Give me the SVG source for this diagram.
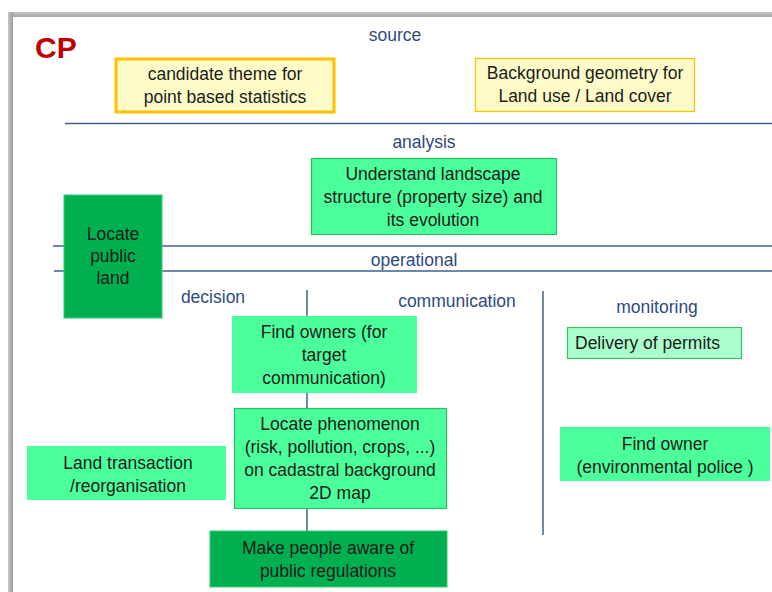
<svg xmlns="http://www.w3.org/2000/svg" width="772" height="592" viewBox="0 0 772 592">
<defs>
<linearGradient id="gt" x1="0" y1="0" x2="0" y2="1"><stop offset="0" stop-color="#c4c6c9"/><stop offset="1" stop-color="#a5a7aa"/></linearGradient>
<linearGradient id="gl" x1="0" y1="0" x2="1" y2="0"><stop offset="0" stop-color="#c4c6c9"/><stop offset="1" stop-color="#9a9c9f"/></linearGradient>
</defs>
<style>
.t{font-family:"Liberation Sans",Arial,sans-serif;font-size:17.5px;fill:#1b1b1b;text-anchor:middle}
.l{font-family:"Liberation Sans",Arial,sans-serif;font-size:17.5px;fill:#2e4a7e;text-anchor:middle}
.sep{stroke:#3f5f8f;stroke-width:1.5;fill:none}
.mint{fill:#4bff9b}
.mintS{fill:#4bff9b;stroke:#2fbf63;stroke-width:1.2}
.dark{fill:#00b050;stroke:#2fcf6f;stroke-width:1}
.yel{fill:#fffbc8;stroke:#ffc000}
</style>
<rect x="0" y="0" width="772" height="592" fill="#ffffff"/>
<rect x="8" y="12" width="764" height="5" fill="url(#gt)"/>
<rect x="8" y="12" width="5" height="580" fill="url(#gl)"/>
<text x="35" y="58" style="font-family:'Liberation Sans',Arial,sans-serif;font-size:30px;font-weight:bold;fill:#c00000">CP</text>

<g id="separators">
<line class="sep" x1="65" y1="123.5" x2="772" y2="123.5"/>
<line class="sep" x1="53" y1="246" x2="772" y2="246"/>
<line class="sep" x1="54" y1="271" x2="772" y2="271"/>
<line class="sep" x1="543" y1="291" x2="543" y2="535"/>
</g>
<g id="labels">
<text class="l" x="395" y="41">source</text>
<text class="l" x="424" y="148">analysis</text>
<text class="l" x="414" y="266">operational</text>
<text class="l" x="213" y="303">decision</text>
<text class="l" x="457" y="307">communication</text>
<text class="l" x="657" y="313">monitoring</text>
</g>
<g id="connectors">
<line class="sep" x1="307" y1="290" x2="307" y2="531"/>
</g>

<g id="candidate">
<rect class="yel" x="116" y="59" width="218" height="53" stroke-width="3"/>
<text class="t" x="225" y="80">candidate theme for</text>
<text class="t" x="225" y="103">point based statistics</text>
</g>
<g id="background">
<rect class="yel" x="475.5" y="58.5" width="219" height="53" stroke-width="1.3"/>
<text class="t" x="585" y="79">Background geometry  for</text>
<text class="t" x="585" y="102">Land use / Land cover</text>
</g>
<g id="understand">
<rect class="mintS" x="311.5" y="158.5" width="245" height="76"/>
<text class="t" x="433" y="180">Understand landscape</text>
<text class="t" x="433" y="203">structure (property size) and</text>
<text class="t" x="433" y="226">its evolution</text>
</g>
<g id="locate-public">
<rect class="dark" x="64" y="195" width="98" height="123"/>
<text class="t" x="113" y="240">Locate</text>
<text class="t" x="113" y="262">public</text>
<text class="t" x="113" y="284">land</text>
</g>
<g id="find-owners">
<rect class="mint" x="232" y="316" width="185" height="77"/>
<text class="t" x="324" y="338">Find owners (for</text>
<text class="t" x="324" y="361">target</text>
<text class="t" x="324" y="384">communication)</text>
</g>
<g id="delivery">
<rect x="567.5" y="327.5" width="174" height="31" fill="#aaffcc" stroke="#3dbf6a" stroke-width="1.2"/>
<text class="t" x="575" y="349" style="text-anchor:start">Delivery of permits</text>
</g>
<g id="locate-phenomenon">
<rect class="mintS" x="234.5" y="408.5" width="212" height="100"/>
<text class="t" x="340" y="430">Locate phenomenon</text>
<text class="t" x="340" y="453">(risk, pollution, crops, ...)</text>
<text class="t" x="340" y="476">on cadastral background</text>
<text class="t" x="340" y="499">2D map</text>
</g>
<g id="land-transaction">
<rect class="mint" x="27" y="446" width="199" height="54"/>
<text class="t" x="128" y="469">Land transaction</text>
<text class="t" x="128" y="492">/reorganisation</text>
</g>
<g id="find-owner">
<rect class="mint" x="560" y="427" width="210" height="54"/>
<text class="t" x="665" y="450">Find owner</text>
<text class="t" x="665" y="473">(environmental police )</text>
</g>
<g id="make-aware">
<rect class="dark" x="210" y="531" width="237" height="56"/>
<text class="t" x="328" y="554">Make people aware of</text>
<text class="t" x="328" y="577">public regulations</text>
</g>
</svg>
